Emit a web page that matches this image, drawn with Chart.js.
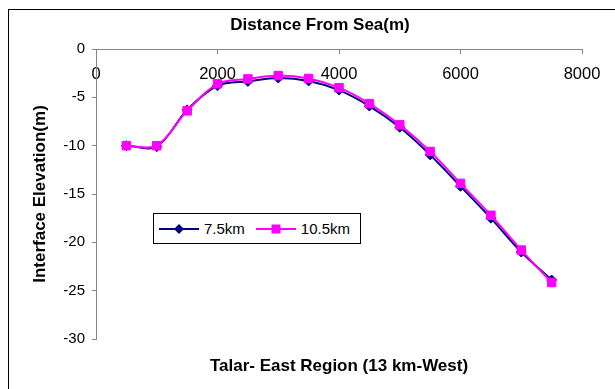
<!DOCTYPE html>
<html lang="en">
<head>
    <meta charset="UTF-8">
    <title>Talar- East Region</title>
    <style>
        body {
            margin: 0;
            background: #fff;
        }
        .wrap {
            position: relative;
            width: 615px;
            height: 389px;
            overflow: hidden;
            font-family: 'Liberation Sans', Arial, sans-serif;
        }
        .frame {
            position: absolute;
            left: 8px;
            top: 9px;
            right: -2px;
            bottom: -2px;
            border-top: 1px solid #000;
            border-left: 1px solid #000;
        }
        #chart {
            position: absolute;
            left: 0;
            top: 0;
        }
        .legend {
            position: absolute;
            left: 153px;
            top: 213px;
            width: 208px;
            height: 31px;
            box-sizing: border-box;
            border: 1px solid #000;
            background: #fff;
            padding-left: 5px;
            display: flex;
            align-items: center;
            font-size: 15px;
            color: #000;
        }
        .legend .item {
            display: flex;
            align-items: center;
            margin-right: 11px;
        }
        .legend .item span {
            margin-left: 5px;
        }
    </style>
</head>
<body>
    <div class="wrap">
        <div class="frame"></div>
        <canvas id="chart" width="615" height="389"></canvas>
        <div class="legend" id="legend"></div>
    </div>

    <script src="https://cdn.jsdelivr.net/npm/chart.js"></script>
    <script>
        // distance from sea (m)
        const distances = [500, 1000, 1500, 2000, 2500, 3000, 3500, 4000, 4500, 5000, 5500, 6000, 6500, 7000, 7500];
        // interface elevation (m)
        const elev75 = [-10.0, -10.1, -6.3, -3.8, -3.35, -3.0, -3.3, -4.25, -5.9, -8.1, -10.95, -14.2, -17.5, -21.0, -23.9];
        const elev105 = [-10.0, -10.0, -6.4, -3.6, -3.1, -2.75, -3.05, -4.0, -5.65, -7.85, -10.6, -13.9, -17.2, -20.8, -24.15];

        const seriesNames = ['7.5km', '10.5km'];
        const xMin = 0, xMax = 8000, xStep = 2000;
        const yMin = -30, yMax = 0, yStep = 5;

        const axisGrey = '#868686';
        const fontFamily = "'Liberation Sans', Arial, sans-serif";

        function toPoints(values) {
            return distances.map((d, i) => ({ x: d, y: values[i] }));
        }

        const hidden = {
            display: true,
            grid: { display: false },
            border: { display: false },
            ticks: { display: false }
        };

        const chart = new Chart(document.getElementById('chart'), {
            type: 'line',
            data: {
                datasets: [{
                    label: seriesNames[0],
                    data: toPoints(elev75),
                    borderColor: '#000080',
                    backgroundColor: '#000080',
                    borderWidth: 2,
                    pointStyle: 'rectRot',
                    pointRadius: 5,
                    pointBorderWidth: 1,
                    tension: 0.33,
                    order: 1,
                    xAxisID: 'x',
                    yAxisID: 'y'
                }, {
                    label: seriesNames[1],
                    data: toPoints(elev105),
                    borderColor: '#FF00FF',
                    backgroundColor: '#FF00FF',
                    borderWidth: 2,
                    pointStyle: 'rect',
                    pointRadius: 6,
                    pointBorderWidth: 1,
                    tension: 0.33,
                    order: 0,
                    xAxisID: 'x',
                    yAxisID: 'y'
                }]
            },
            options: {
                responsive: false,
                animation: false,
                layout: { padding: { left: 25, right: 0, top: 0, bottom: 0 } },
                plugins: {
                    legend: { display: false },
                    tooltip: { enabled: false },
                    title: {
                        display: true,
                        text: 'Distance From Sea(m)',
                        color: '#000',
                        font: { family: fontFamily, size: 17, weight: 'bold' },
                        padding: { top: 15.3, bottom: 13.3 }
                    }
                },
                scales: {
                    x: {
                        type: 'linear',
                        position: { y: 0 },
                        min: xMin,
                        max: xMax,
                        ticks: {
                            stepSize: xStep,
                            color: '#000',
                            padding: 12,
                            format: { useGrouping: false },
                            font: { family: fontFamily, size: 16.5 }
                        },
                        grid: { drawOnChartArea: false, tickLength: 4, color: axisGrey },
                        border: { color: axisGrey, width: 1 }
                    },
                    y: {
                        type: 'linear',
                        position: 'left',
                        min: yMin,
                        max: yMax,
                        afterFit: s => { s.width = 71; },
                        ticks: {
                            stepSize: yStep,
                            color: '#000',
                            padding: 7,
                            font: { family: fontFamily, size: 15 }
                        },
                        grid: { drawOnChartArea: false, tickLength: 4, color: axisGrey },
                        border: { color: axisGrey, width: 1 },
                        title: {
                            display: true,
                            text: 'Interface Elevation(m)',
                            color: '#000',
                            font: { family: fontFamily, size: 17, weight: 'bold' },
                            padding: { top: 4.8, bottom: 0 }
                        }
                    },
                    yRight: Object.assign({}, hidden, {
                        type: 'linear',
                        position: 'right',
                        afterFit: s => { s.width = 33; }
                    }),
                    xBottom: Object.assign({}, hidden, {
                        type: 'linear',
                        position: 'bottom',
                        afterFit: s => { s.height = 50; },
                        title: {
                            display: true,
                            text: 'Talar- East Region (13 km-West)',
                            color: '#000',
                            font: { family: fontFamily, size: 17, weight: 'bold' },
                            padding: { top: 0, bottom: 12.8 }
                        }
                    })
                }
            }
        });

        // html legend built from the chart's datasets
        function markerSvg(ds) {
            const c = ds.borderColor;
            let mark;
            if (ds.pointStyle === 'rectRot') {
                mark = `<polygon points="20,1 25,6 20,11 15,6" fill="${c}"/>`;
            } else {
                mark = `<rect x="15.5" y="1.5" width="9" height="9" fill="${c}"/>`;
            }
            return `<svg width="40" height="12"><line x1="0" y1="6" x2="40" y2="6" stroke="${c}" stroke-width="2"/>${mark}</svg>`;
        }

        const legend = document.getElementById('legend');
        chart.data.datasets.forEach(ds => {
            const item = document.createElement('div');
            item.className = 'item';
            item.innerHTML = markerSvg(ds) + `<span>${ds.label}</span>`;
            legend.appendChild(item);
        });
    </script>
</body>
</html>
